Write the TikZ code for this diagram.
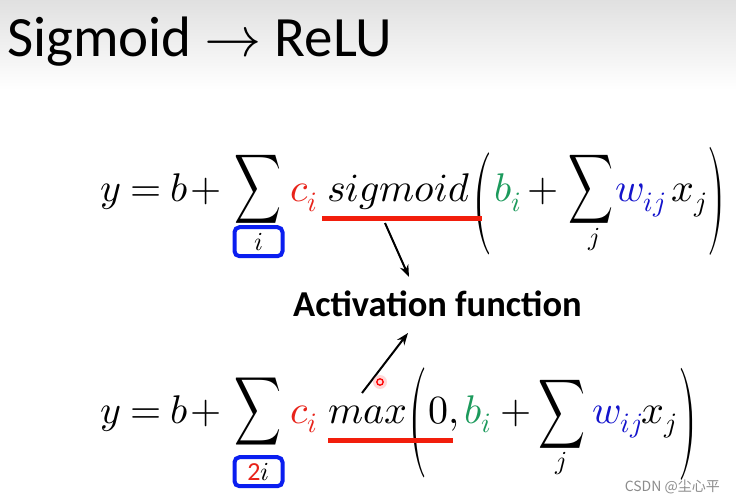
\documentclass[tikz,border=0pt]{standalone}
\usepackage{fontspec}
\usepackage{unicode-math}
\usepackage{graphicx}
\usetikzlibrary{arrows.meta,positioning}
\newfontfamily\carlito{Carlito}
\newfontfamily\cjk{Noto Sans CJK SC}
\definecolor{cired}{HTML}{E8231A}
\definecolor{bgreen}{HTML}{1C9A5C}
\definecolor{wblue}{HTML}{1414CC}
\definecolor{boxblue}{HTML}{0A1EF0}
\definecolor{ulred}{HTML}{F21E0C}
\newcommand{\mathsize}{\fontsize{40}{48}\selectfont}
\newcommand{\subsize}{\fontsize{26}{30}\selectfont}
\begin{document}
\begin{tikzpicture}[x=1pt,y=-1pt]
\tikzstyle{term} = [inner sep=0pt, anchor=base west, font=\mathsize]
\tikzstyle{bigsum} = [inner sep=0pt]
\tikzstyle{paren} = [inner sep=0pt]
\tikzstyle{idx} = [inner sep=0pt, font=\subsize]
\tikzstyle{box} = [draw=boxblue, line width=4pt, rounded corners=5pt, minimum width=48pt, minimum height=29pt, inner sep=0pt, font=\subsize]
\tikzstyle{uline} = [draw=ulred, line width=5pt]
\tikzstyle{arrow} = [line width=2pt, ->, >= {Stealth[length=12pt,width=9pt]}]
\useasboundingbox (0,0) rectangle (736,502);
\fill[white] (0,0) rectangle (736,502);
\shade[top color=black!12, bottom color=white] (0,0) rectangle (736,90);
% title
\node[inner sep=0pt, anchor=base west, font=\carlito\fontsize{57}{60}\selectfont](title) at (7,57){Sigmoid $\rightarrow$ ReLU};
% sigmoid line
\node[term](yA) at (100,202){$y$};
\node[term](eqA) at (130,202){$=$};
\node[term](bA) at (170,202){$b$};
\node[term](plA) at (190,202){$+$};
\node[bigsum](sumA) at (258.5,189){\resizebox*{47pt}{68pt}{$\displaystyle\sum$}};
\node[box, below = 2pt of sumA](boxA){$i$};
\node[term, text=cired](ciA) at (290,202){$c_i$};
\node[term](sigA) at (327,202){$sigmoid$};
\node[paren](lpA) at (482,204){\resizebox*{20pt}{102pt}{$($}};
\node[term, text=bgreen](biA) at (494,202){$b_i$};
\node[term](pljA) at (527,202){$+$};
\node[bigsum](sumjA) at (590.5,189){\resizebox*{45pt}{68pt}{$\displaystyle\sum$}};
\node[idx](jA) at (594,240){$j$};
\node[term, text=wblue](wA) at (615,202){$w_{ij}$};
\node[term](xA) at (671,202){$x_j$};
\node[paren](rpA) at (716,201){\resizebox*{18pt}{108pt}{$)$}};
% relu line
\node[term](yB) at (100,423){$y$};
\node[term](eqB) at (130,423){$=$};
\node[term](bB) at (170,423){$b$};
\node[term](plB) at (190,423){$+$};
\node[bigsum](sumB) at (258.5,411.5){\resizebox*{47pt}{67pt}{$\displaystyle\sum$}};
\node[box, below = 10pt of sumB](boxB){{\carlito\textcolor{cired}{2}}$i$};
\node[term, text=cired](ciB) at (290,423){$c_i$};
\node[term](maxB) at (328,423){$max$};
\node[paren](lpB) at (417.5,423){\resizebox*{19pt}{110pt}{$($}};
\node[term](zeroB) at (428,423){$0,$};
\node[term, text=bgreen](biB) at (464,423){$b_i$};
\node[term](pljB) at (500,423){$+$};
\node[bigsum](sumjB) at (561.5,414){\resizebox*{47pt}{68pt}{$\displaystyle\sum$}};
\node[idx](jB) at (561,464){$j$};
\node[term, text=wblue](wB) at (592,423){$w_{ij}$};
\node[term](xB) at (641,423){$x_j$};
\node[paren](rpB) at (687.5,424){\resizebox*{19pt}{112pt}{$)$}};
% label
\node[inner sep=0pt, anchor=base, font=\carlito\bfseries\fontsize{36.5}{42}\selectfont](act) at (437.5,317){Activation function};
\coordinate (ulA1) at (322,219);
\coordinate (ulA2) at (482,219);
\coordinate (ulB1) at (328,440);
\coordinate (ulB2) at (453,440);
\draw[uline] (ulA1)--(ulA2);
\draw[uline] (ulB1)--(ulB2);
\coordinate (arA) at (385,223);
\coordinate (arAend) at (409,277);
\coordinate (arB) at (362,393);
\coordinate (arBend) at (408,333);
\draw[arrow] (arA)--(arAend);
\draw[arrow] (arB)--(arBend);
% pointer
\coordinate (cursor) at (380,382);
\fill[red!30, opacity=0.5] (cursor) circle (7);
\draw[red, line width=1.3pt] (cursor) circle (3.2);
\node[inner sep=0pt, anchor=base east, text=black!45, font=\cjk\fontsize{14}{16}\selectfont](mark) at (720,491){CSDN @尘心平};
\end{tikzpicture}
\end{document}
